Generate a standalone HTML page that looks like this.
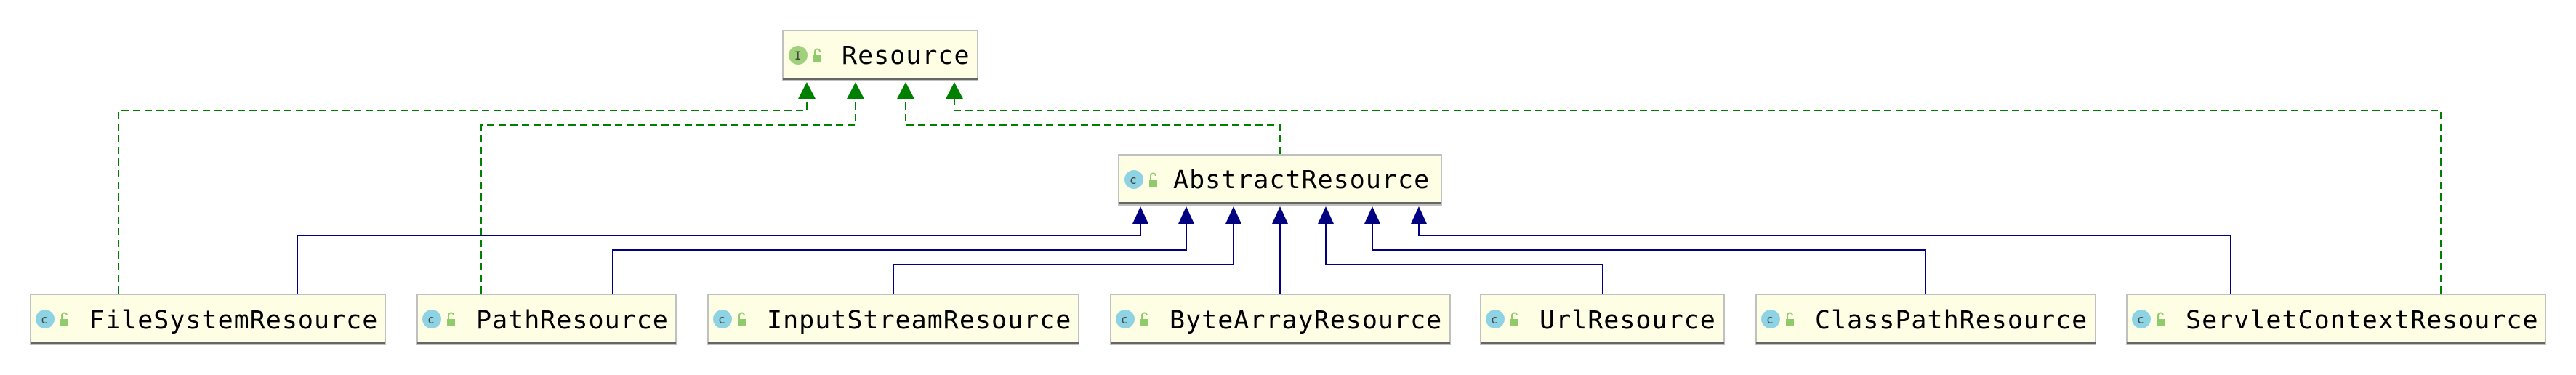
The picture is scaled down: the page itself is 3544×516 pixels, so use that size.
<!DOCTYPE html>
<html><head><meta charset="utf-8"><style>
html,body{margin:0;padding:0;background:#fff;width:3544px;height:516px;overflow:hidden}
text{font-family:"DejaVu Sans Mono","Liberation Mono",monospace}
</style></head><body>
<svg width="3544" height="516" xmlns="http://www.w3.org/2000/svg">
<defs>
<g id="lock"><rect x="0" y="8" width="11" height="10" fill="#8fcb6b"/><path d="M2 8 V3 a3.5 3.5 0 0 1 7 0" fill="none" stroke="#8fcb6b" stroke-width="2"/></g>
</defs>
<g fill="none" stroke="#008000" stroke-width="2" stroke-dasharray="10,6">
<path d="M163 404 V152 H1110 V136"/>
<path d="M662 404 V172 H1177 V136"/>
<path d="M1761 212 V172 H1246 V136"/>
<path d="M3358 404 V152 H1313 V136"/>
</g>
<g fill="#008000">
<polygon points="1110,113 1098,136 1122,136"/>
<polygon points="1177,113 1165,136 1189,136"/>
<polygon points="1246,113 1234,136 1258,136"/>
<polygon points="1313,113 1301,136 1325,136"/>
</g>
<g fill="none" stroke="#000080" stroke-width="2">
<path d="M409 404 V324 H1569 V308"/>
<path d="M843 404 V344 H1632 V308"/>
<path d="M1229 404 V364 H1697 V308"/>
<path d="M1761 404 V308"/>
<path d="M2205 404 V364 H1824 V308"/>
<path d="M2649 404 V344 H1888 V308"/>
<path d="M3069 404 V324 H1952 V308"/>
</g>
<g fill="#000080">
<polygon points="1569,284 1558,308 1580,308"/>
<polygon points="1632,284 1621,308 1643,308"/>
<polygon points="1697,284 1686,308 1708,308"/>
<polygon points="1761,284 1750,308 1772,308"/>
<polygon points="1824,284 1813,308 1835,308"/>
<polygon points="1888,284 1877,308 1899,308"/>
<polygon points="1952,284 1941,308 1963,308"/>
</g>
<g font-size="35" letter-spacing="1" fill="#000">
<rect x="1077" y="42" width="268" height="69" fill="#fefee4" stroke="#c0c0c0" stroke-width="2"/>
<rect x="1077" y="107" width="268" height="3" fill="#666"/>
<circle cx="1098" cy="76" r="13" fill="#9fd07a"/>
<text x="1093" y="82" font-size="16" fill="#444" letter-spacing="0">I</text>
<use href="#lock" x="1119" y="68"/>
<text x="1158" y="88">Resource</text>
<rect x="1539" y="213" width="444" height="69" fill="#fefee4" stroke="#c0c0c0" stroke-width="2"/>
<rect x="1539" y="278" width="444" height="3" fill="#666"/>
<circle cx="1560" cy="247" r="13" fill="#8dd3e3"/>
<text x="1554" y="253" font-size="16" fill="#444" letter-spacing="0">c</text>
<use href="#lock" x="1581" y="239"/>
<text x="1614" y="259">AbstractResource</text>
</g>
<g font-size="35" letter-spacing="1" fill="#000">
<g transform="translate(41,0)"><rect x="1" y="405" width="488" height="69" fill="#fefee4" stroke="#c0c0c0" stroke-width="2"/><rect x="1" y="470" width="488" height="3" fill="#666"/><circle cx="21" cy="439" r="13" fill="#8dd3e3"/><text x="15" y="445" font-size="16" fill="#444" letter-spacing="0">c</text><use href="#lock" x="42" y="431"/><text x="82" y="452">FileSystemResource</text></g>
<g transform="translate(573,0)"><rect x="1" y="405" width="356" height="69" fill="#fefee4" stroke="#c0c0c0" stroke-width="2"/><rect x="1" y="470" width="356" height="3" fill="#666"/><circle cx="21" cy="439" r="13" fill="#8dd3e3"/><text x="15" y="445" font-size="16" fill="#444" letter-spacing="0">c</text><use href="#lock" x="42" y="431"/><text x="82" y="452">PathResource</text></g>
<g transform="translate(973,0)"><rect x="1" y="405" width="510" height="69" fill="#fefee4" stroke="#c0c0c0" stroke-width="2"/><rect x="1" y="470" width="510" height="3" fill="#666"/><circle cx="21" cy="439" r="13" fill="#8dd3e3"/><text x="15" y="445" font-size="16" fill="#444" letter-spacing="0">c</text><use href="#lock" x="42" y="431"/><text x="82" y="452">InputStreamResource</text></g>
<g transform="translate(1527,0)"><rect x="1" y="405" width="467" height="69" fill="#fefee4" stroke="#c0c0c0" stroke-width="2"/><rect x="1" y="470" width="467" height="3" fill="#666"/><circle cx="21" cy="439" r="13" fill="#8dd3e3"/><text x="15" y="445" font-size="16" fill="#444" letter-spacing="0">c</text><use href="#lock" x="42" y="431"/><text x="82" y="452">ByteArrayResource</text></g>
<g transform="translate(2036,0)"><rect x="1" y="405" width="335" height="69" fill="#fefee4" stroke="#c0c0c0" stroke-width="2"/><rect x="1" y="470" width="335" height="3" fill="#666"/><circle cx="21" cy="439" r="13" fill="#8dd3e3"/><text x="15" y="445" font-size="16" fill="#444" letter-spacing="0">c</text><use href="#lock" x="42" y="431"/><text x="82" y="452">UrlResource</text></g>
<g transform="translate(2415,0)"><rect x="1" y="405" width="467" height="69" fill="#fefee4" stroke="#c0c0c0" stroke-width="2"/><rect x="1" y="470" width="467" height="3" fill="#666"/><circle cx="21" cy="439" r="13" fill="#8dd3e3"/><text x="15" y="445" font-size="16" fill="#444" letter-spacing="0">c</text><use href="#lock" x="42" y="431"/><text x="82" y="452">ClassPathResource</text></g>
<g transform="translate(2925,0)"><rect x="1" y="405" width="576" height="69" fill="#fefee4" stroke="#c0c0c0" stroke-width="2"/><rect x="1" y="470" width="576" height="3" fill="#666"/><circle cx="21" cy="439" r="13" fill="#8dd3e3"/><text x="15" y="445" font-size="16" fill="#444" letter-spacing="0">c</text><use href="#lock" x="42" y="431"/><text x="82" y="452">ServletContextResource</text></g>
</g>
</svg>
</body></html>
